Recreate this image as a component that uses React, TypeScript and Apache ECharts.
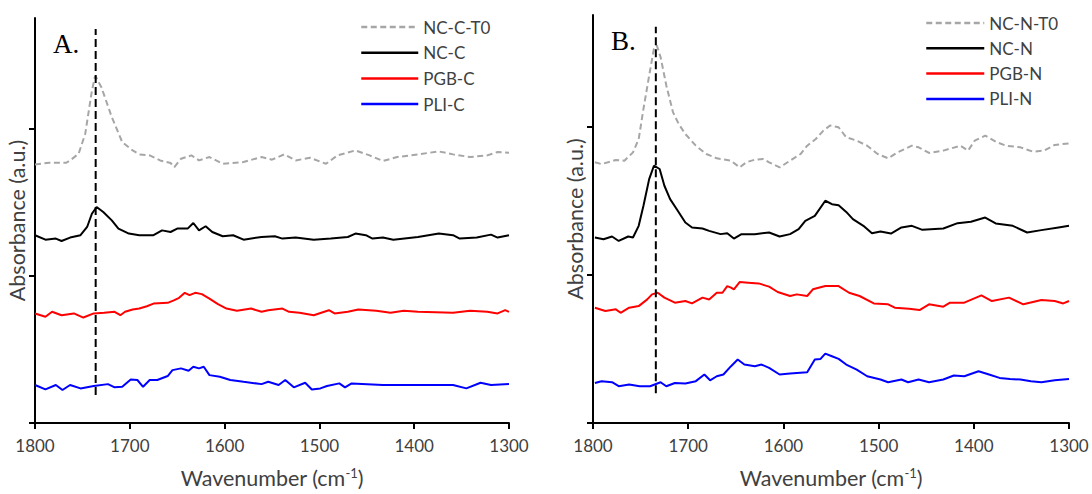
import React, { useEffect, useRef } from "react";
import * as echarts from "echarts";

// ---- Data (wavenumber cm-1, absorbance a.u.) ----
const xTicks = [1300, 1400, 1500, 1600, 1700, 1800];
const yTicks = [0, 0.1, 0.2];

const ncCT0: number[][] = [
  [1800, 0.1756], [1785, 0.1767], [1767, 0.1767], [1763, 0.1783], [1754, 0.1828], [1747, 0.1964],
  [1740.5, 0.2235], [1737, 0.2348], [1736, 0.2353], [1730, 0.228], [1719, 0.2077], [1708, 0.1907],
  [1697, 0.1851], [1690, 0.1824], [1679, 0.1817], [1668, 0.1783], [1657, 0.1765], [1653, 0.1738],
  [1646, 0.1794], [1635, 0.1817], [1627, 0.1783], [1616, 0.1806], [1602, 0.176], [1580, 0.1772],
  [1561, 0.1806], [1550, 0.1788], [1537, 0.1824], [1525, 0.1783], [1510, 0.1801], [1493, 0.176],
  [1481, 0.1817], [1462, 0.1851], [1447, 0.1817], [1433, 0.1779], [1418, 0.1806], [1396, 0.1824],
  [1374, 0.1844], [1359, 0.1824], [1341, 0.1806], [1323, 0.1817], [1312, 0.184], [1300, 0.1835],
];
const ncC: number[][] = [
  [1800, 0.1275], [1789, 0.1245], [1778, 0.1252], [1772, 0.1236], [1763, 0.1259], [1752, 0.1275],
  [1745, 0.1331], [1740, 0.1421], [1735, 0.1467], [1728, 0.1433], [1719, 0.1376], [1712, 0.132],
  [1701, 0.1286], [1690, 0.1275], [1675, 0.1275], [1666, 0.1308], [1657, 0.1297], [1650, 0.132],
  [1639, 0.132], [1633, 0.1358], [1627, 0.1308], [1620, 0.1336], [1613, 0.1297], [1602, 0.1268],
  [1591, 0.1275], [1580, 0.1245], [1561, 0.1263], [1547, 0.1268], [1539, 0.1252], [1525, 0.1259],
  [1506, 0.1245], [1488, 0.1252], [1470, 0.1263], [1462, 0.1286], [1451, 0.1275], [1444, 0.1252],
  [1433, 0.1259], [1422, 0.1245], [1396, 0.1263], [1374, 0.1286], [1359, 0.1275], [1352, 0.1252],
  [1334, 0.1259], [1319, 0.1279], [1312, 0.1259], [1300, 0.1275],
];
const pgbC: number[][] = [
  [1800, 0.0744], [1789, 0.0721], [1782, 0.0755], [1772, 0.0732], [1759, 0.0744], [1749, 0.0716],
  [1738, 0.0744], [1727, 0.0748], [1716, 0.0755], [1710, 0.0732], [1705, 0.0755], [1697, 0.0771],
  [1690, 0.0777], [1682, 0.0793], [1675, 0.0811], [1660, 0.0816], [1653, 0.0834], [1648, 0.085],
  [1642, 0.0884], [1637, 0.0868], [1631, 0.0884], [1624, 0.0875], [1616, 0.0845], [1607, 0.0807],
  [1598, 0.0777], [1587, 0.0762], [1572, 0.0777], [1561, 0.0755], [1554, 0.0766], [1539, 0.0777],
  [1532, 0.0755], [1521, 0.0748], [1506, 0.0732], [1490, 0.0766], [1484, 0.0744], [1470, 0.0755],
  [1459, 0.0771], [1440, 0.0762], [1425, 0.0748], [1411, 0.0762], [1396, 0.0755], [1359, 0.0748],
  [1341, 0.0762], [1323, 0.0755], [1312, 0.0744], [1304, 0.0766], [1300, 0.0755],
];
const pliC: number[][] = [
  [1800, 0.0258], [1789, 0.0228], [1778, 0.0258], [1771, 0.0224], [1763, 0.0258], [1752, 0.0235],
  [1738, 0.0251], [1723, 0.0264], [1716, 0.0242], [1708, 0.0246], [1699, 0.0296], [1692, 0.0292],
  [1686, 0.0246], [1679, 0.0292], [1671, 0.0292], [1660, 0.0319], [1655, 0.0359], [1646, 0.0371],
  [1638, 0.0355], [1633, 0.0382], [1627, 0.0371], [1622, 0.0382], [1616, 0.0325], [1605, 0.0314],
  [1594, 0.0292], [1580, 0.028], [1561, 0.0264], [1554, 0.028], [1543, 0.0258], [1536, 0.0292],
  [1527, 0.0242], [1515, 0.0273], [1508, 0.0228], [1499, 0.0235], [1492, 0.0251], [1479, 0.0269],
  [1473, 0.0242], [1466, 0.0269], [1433, 0.0258], [1396, 0.0258], [1359, 0.0258], [1345, 0.0235],
  [1330, 0.0273], [1319, 0.0258], [1300, 0.0264],
];
const ncNT0: number[][] = [
  [1798, 0.1757], [1791, 0.1745], [1776, 0.1773], [1767, 0.1768], [1758, 0.1824], [1752, 0.1914],
  [1747, 0.2117], [1741, 0.2342], [1736, 0.2523], [1733, 0.2545], [1729, 0.2466], [1723, 0.2275],
  [1716, 0.2095], [1710, 0.2016], [1703, 0.1948], [1692, 0.1869], [1681, 0.1813], [1670, 0.1784],
  [1655, 0.1768], [1646, 0.1723], [1639, 0.1757], [1630, 0.1775], [1621, 0.1779], [1615, 0.1757],
  [1604, 0.1723], [1593, 0.1768], [1582, 0.1813], [1575, 0.1869], [1566, 0.1914], [1558, 0.1971],
  [1551, 0.2005], [1542, 0.1993], [1534, 0.1926], [1523, 0.1903], [1512, 0.1869], [1501, 0.1813],
  [1490, 0.1784], [1480, 0.1824], [1465, 0.1869], [1458, 0.1858], [1447, 0.182], [1432, 0.1836],
  [1414, 0.1869], [1406, 0.1836], [1399, 0.1903], [1388, 0.1937], [1377, 0.1896], [1366, 0.1869],
  [1351, 0.1858], [1338, 0.1829], [1326, 0.1836], [1315, 0.1874], [1300, 0.1885],
];
const ncN: number[][] = [
  [1798, 0.125], [1789, 0.1239], [1780, 0.1257], [1773, 0.1227], [1763, 0.1257], [1758, 0.125],
  [1752, 0.1329], [1747, 0.1464], [1741, 0.1644], [1736, 0.1734], [1730, 0.1712], [1725, 0.1599],
  [1719, 0.1509], [1712, 0.1441], [1703, 0.1351], [1696, 0.1318], [1685, 0.1311], [1678, 0.1295],
  [1666, 0.1273], [1659, 0.1279], [1652, 0.1243], [1644, 0.1273], [1630, 0.1273], [1615, 0.1284],
  [1604, 0.1257], [1593, 0.1273], [1584, 0.1306], [1577, 0.1363], [1567, 0.1396], [1556, 0.1498],
  [1549, 0.1475], [1542, 0.1468], [1534, 0.1423], [1527, 0.1374], [1516, 0.1329], [1507, 0.1279],
  [1498, 0.1291], [1487, 0.1277], [1476, 0.1318], [1465, 0.1329], [1454, 0.1302], [1432, 0.1311],
  [1417, 0.1347], [1403, 0.1356], [1388, 0.1385], [1377, 0.1345], [1359, 0.1329], [1344, 0.1284],
  [1329, 0.13], [1311, 0.1318], [1300, 0.1329],
];
const pgbN: number[][] = [
  [1798, 0.0777], [1787, 0.0755], [1776, 0.0766], [1771, 0.0743], [1762, 0.0777], [1752, 0.0788],
  [1743, 0.0833], [1738, 0.0867], [1732, 0.0878], [1725, 0.0845], [1714, 0.0811], [1703, 0.0822],
  [1696, 0.0806], [1685, 0.0845], [1678, 0.0833], [1670, 0.0878], [1664, 0.0878], [1659, 0.0923],
  [1655, 0.0912], [1652, 0.0901], [1646, 0.095], [1637, 0.0946], [1626, 0.0941], [1615, 0.0919],
  [1606, 0.0883], [1593, 0.0856], [1586, 0.0867], [1575, 0.0856], [1569, 0.0901], [1556, 0.0923],
  [1542, 0.0923], [1531, 0.0878], [1520, 0.0856], [1505, 0.0806], [1490, 0.08], [1483, 0.0777],
  [1468, 0.077], [1457, 0.0761], [1447, 0.08], [1432, 0.0784], [1425, 0.0811], [1410, 0.0811],
  [1392, 0.086], [1381, 0.0822], [1363, 0.0845], [1348, 0.08], [1329, 0.0829], [1315, 0.0822],
  [1306, 0.0806], [1300, 0.0822],
];
const pliN: number[][] = [
  [1798, 0.027], [1791, 0.0282], [1780, 0.0275], [1773, 0.0248], [1762, 0.0259], [1751, 0.0248],
  [1740, 0.0248], [1729, 0.0275], [1723, 0.0248], [1714, 0.027], [1703, 0.0266], [1692, 0.0282],
  [1683, 0.0327], [1677, 0.0288], [1670, 0.0315], [1663, 0.0327], [1655, 0.0383], [1648, 0.0428],
  [1641, 0.0394], [1630, 0.0383], [1623, 0.0394], [1615, 0.0372], [1604, 0.0327], [1593, 0.0333],
  [1575, 0.0342], [1567, 0.0428], [1561, 0.0432], [1556, 0.0468], [1549, 0.045], [1542, 0.0432],
  [1534, 0.0394], [1523, 0.036], [1512, 0.0315], [1498, 0.0293], [1490, 0.0275], [1476, 0.0293],
  [1469, 0.0275], [1458, 0.0293], [1447, 0.0275], [1432, 0.0293], [1421, 0.032], [1410, 0.0315],
  [1395, 0.0349], [1384, 0.0327], [1373, 0.0304], [1362, 0.0297], [1351, 0.0293], [1340, 0.0282],
  [1329, 0.0275], [1315, 0.0288], [1300, 0.0297],
];
const markerA: number[][] = [[1736, 0.019], [1736, 0.2675]];
const markerB: number[][] = [[1734, 0.02], [1734, 0.267]];

const namesA = ["NC-C-T0", "NC-C", "PGB-C", "PLI-C"];
const namesB = ["NC-N-T0", "NC-N", "PGB-N", "PLI-N"];

const FONT = "Lato";
const TXT = "#404040";

function xAxis(gridIndex: number) {
  return {
    type: "value",
    gridIndex,
    inverse: true,
    min: 1300,
    max: 1800,
    interval: 100,
    name: "{a|Wavenumber (cm}{s|-1}{a|)}",
    nameLocation: "middle",
    nameGap: 43,
    nameTextStyle: {
      rich: {
        a: { fontFamily: FONT, fontSize: 21.5, color: TXT },
        s: { fontFamily: FONT, fontSize: 13, color: TXT, padding: [0, 0, 10, 0] },
      },
    },
    axisLine: { show: true, lineStyle: { color: "#000", width: 2 } },
    axisTick: { show: true, length: 6, lineStyle: { color: "#000", width: 2 } },
    axisLabel: {
      fontFamily: FONT,
      fontSize: 17,
      color: TXT,
      margin: 14,
      formatter: (v: number) => (xTicks.indexOf(v) >= 0 ? String(v) : ""),
    },
    splitLine: { show: false },
  };
}

function yAxis(gridIndex: number) {
  return {
    type: "value",
    gridIndex,
    min: 0,
    max: 0.275,
    name: "Absorbance (a.u.)",
    nameLocation: "middle",
    nameGap: 7,
    nameTextStyle: { fontFamily: FONT, fontSize: 21.5, color: TXT },
    axisLine: { show: true, lineStyle: { color: "#000", width: 2 } },
    axisTick: { show: true, length: 6, customValues: yTicks, lineStyle: { color: "#000", width: 2 } },
    axisLabel: { show: false },
    splitLine: { show: false },
  };
}

const colors = ["#a6a6a6", "#000000", "#ff0000", "#0000ff"];

function mkSeries(name: string, data: number[][], idx: number, k: number) {
  return {
    type: "line",
    name,
    xAxisIndex: idx,
    yAxisIndex: idx,
    data,
    showSymbol: false,
    symbol: "none",
    smooth: false,
    lineStyle: {
      color: colors[k],
      width: 2,
      type: k === 0 ? [6, 3.5] : "solid",
    },
    itemStyle: { color: colors[k] },
    z: 3,
  };
}

function marker(data: number[][], idx: number) {
  return {
    type: "line",
    name: "marker" + idx,
    xAxisIndex: idx,
    yAxisIndex: idx,
    data,
    showSymbol: false,
    symbol: "none",
    lineStyle: { color: "#000", width: 2, type: [8, 4] },
    z: 4,
    silent: true,
  };
}

function legend(data: string[], left: number, top: number, gap: number, w: number) {
  return {
    data,
    orient: "vertical",
    left,
    top,
    padding: 0,
    itemWidth: w,
    itemHeight: 14,
    itemGap: gap,
    itemStyle: { opacity: 0, color: "transparent", borderColor: "transparent" },
    lineStyle: { width: 2.5 },
    textStyle: { fontFamily: FONT, fontSize: 17, color: TXT },
  };
}

export default function App() {
  const ref = useRef<HTMLDivElement>(null);
  useEffect(() => {
    if (!ref.current) return;
    const chart = echarts.init(ref.current, undefined, { renderer: "svg" });
    const seriesA = [ncCT0, ncC, pgbC, pliC];
    const seriesB = [ncNT0, ncN, pgbN, pliN];
    chart.setOption({
      animation: false,
      backgroundColor: "#ffffff",
      grid: [
        { left: 35, top: 18, width: 474, height: 405 },
        { left: 593, top: 15, width: 476, height: 408 },
      ],
      xAxis: [xAxis(0), xAxis(1)],
      yAxis: [yAxis(0), yAxis(1)],
      legend: [
        legend(namesA, 360, 18.5, 8.7, 57),
        legend(namesB, 925, 14.5, 8.3, 58),
      ],
      graphic: [
        {
          type: "text",
          left: 53,
          top: 30,
          style: { text: "A.", font: "27px 'Liberation Serif'", fill: "#000" },
        },
        {
          type: "text",
          left: 611,
          top: 27,
          style: { text: "B.", font: "27px 'Liberation Serif'", fill: "#000" },
        },
      ],
      series: [
        ...seriesA.map((d, k) => mkSeries(namesA[k], d, 0, k)),
        ...seriesB.map((d, k) => mkSeries(namesB[k], d, 1, k)),
        marker(markerA, 0),
        marker(markerB, 1),
      ],
    });
    return () => chart.dispose();
  }, []);
  return (
    <div
      ref={ref}
      style={{ position: "absolute", left: 0, top: 0, width: 1092, height: 494 }}
    />
  );
}
